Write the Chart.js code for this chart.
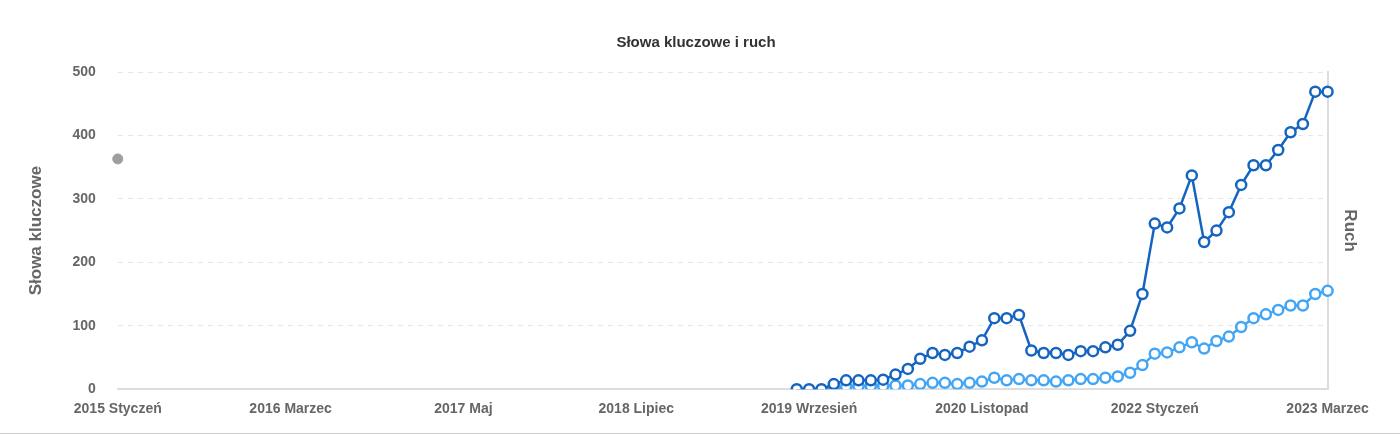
<!DOCTYPE html>
<html>
<head>
<meta charset="utf-8">
<script src="https://cdn.jsdelivr.net/npm/chart.js@4"></script>
<style>
  body { margin: 0; background: #fff; }
  #wrap { width: 1400px; height: 434px; border-bottom: 1px solid #ccc; box-sizing: border-box; }
</style>
</head>
<body>
<div id="wrap"><canvas id="c" width="1400" height="430"></canvas></div>
<script>
// miesiące od 2015 Styczeń do 2023 Marzec
const MONTHS = ["Styczeń", "Luty", "Marzec", "Kwiecień", "Maj", "Czerwiec", "Lipiec", "Sierpień", "Wrzesień", "Październik", "Listopad", "Grudzień"];
const labels = [];
for (let y = 2015; y <= 2023; y++) {
    MONTHS.forEach((m, i) => { if (y < 2023 || i < 3) labels.push(y + " " + m); });
}

// Słowa kluczowe od 2019 Sierpień
const keywords = [0, 0, 0, 8, 14, 14, 14, 15, 23, 32,
    48, 57, 54, 57, 67, 77, 112, 112, 117, 61,
    57, 57, 54, 60, 60, 66, 70, 92, 150, 261,
    255, 285, 337, 232, 250, 279, 322, 353, 353, 377,
    405, 418, 469, 469];
// Ruch od 2019 Listopad
const traffic = [2, 4, 5, 5, 5, 6, 6, 8, 10, 10,
    8, 10, 12, 18, 14, 16, 14, 14, 12, 14,
    16, 16, 18, 20, 26, 38, 56, 58, 66, 74,
    64, 76, 83, 98, 112, 118, 125, 132, 132, 150, 155];
const grayPoint = 363;

const pad = (arr, start) => labels.map((_, i) => i >= start && i - start < arr.length ? arr[i - start] : null);
const kwData = pad(keywords, labels.length - keywords.length);
const trData = pad(traffic, labels.length - traffic.length);
const grayData = labels.map((_, i) => i === 0 ? grayPoint : null);

const tickFont = { family: "'Liberation Sans', Arial, sans-serif", size: 14, weight: "bold" };

new Chart(document.getElementById("c"), {
    type: "line",
    data: {
        labels: labels,
        datasets: [
            { data: kwData, yAxisID: "y", borderColor: "#1565c0", backgroundColor: "#fff",
              borderWidth: 2.5, pointRadius: 5, pointBorderWidth: 2.5, pointBackgroundColor: "#fff" },
            { data: trData, yAxisID: "y1", borderColor: "#42a5f5", backgroundColor: "#fff",
              borderWidth: 2.5, pointRadius: 5, pointBorderWidth: 2.5, pointBackgroundColor: "#fff" },
            { data: grayData, yAxisID: "y", borderColor: "#9e9e9e", pointBackgroundColor: "#9e9e9e",
              pointBorderColor: "#9e9e9e", pointRadius: 5, showLine: false }
        ]
    },
    options: {
        responsive: false,
        animation: false,
        layout: { padding: { left: 22, right: 30, top: 14, bottom: 0 } },
        plugins: {
            legend: { display: false },
            tooltip: { enabled: false },
            title: { display: true, text: "Słowa kluczowe i ruch", color: "#333",
                     font: { family: tickFont.family, size: 15, weight: "bold" }, padding: { top: 20, bottom: 20 } }
        },
        scales: {
            x: {
                offset: false,
                grid: { display: false, drawTicks: false },
                border: { color: "#ddd", width: 2 },
                ticks: { autoSkip: false, maxRotation: 0, color: "#666", font: tickFont, padding: 12,
                         callback: (v, i) => i % 14 === 0 ? labels[i] : null }
            },
            y: {
                min: 0, max: 500,
                grid: { color: "#e6e6e6", tickLength: 0 },
                border: { display: false, dash: [5, 5] },
                ticks: { stepSize: 100, color: "#666", font: tickFont, padding: 22 },
                title: { display: true, text: "Słowa kluczowe", color: "#666", font: { ...tickFont, size: 17 } }
            },
            y1: {
                position: "right", min: 0, max: 500,
                grid: { display: false },
                border: { color: "#ddd", width: 2 },
                ticks: { display: false },
                title: { display: true, text: "Ruch", color: "#666", font: { ...tickFont, size: 17 }, padding: { top: 10 } }
            }
        }
    }
});
</script>
</body>
</html>
